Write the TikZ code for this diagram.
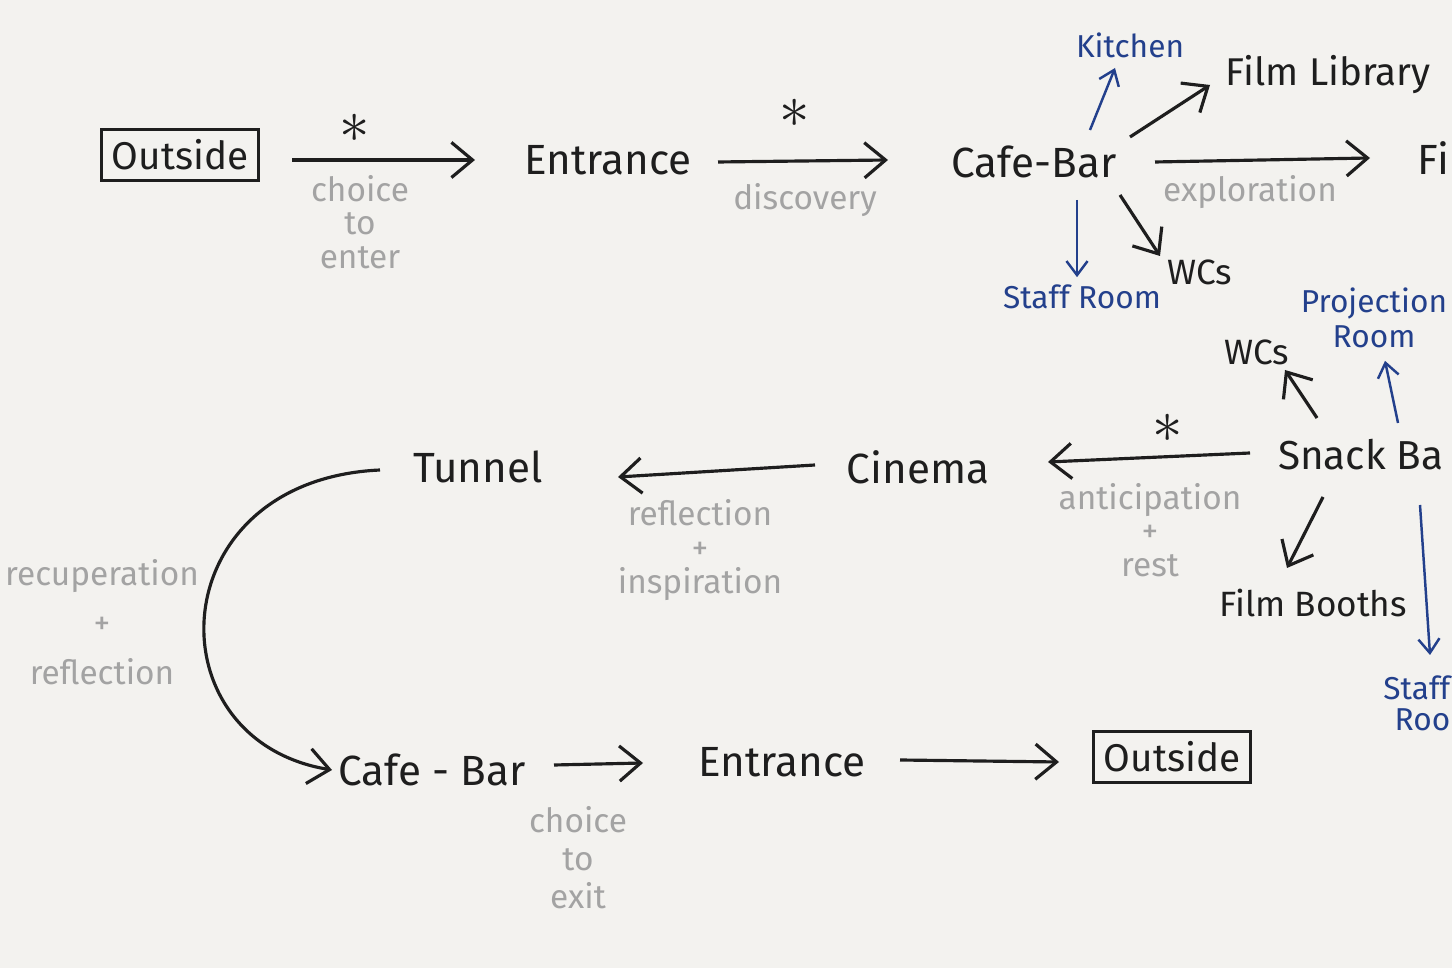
\documentclass[tikz,border=0pt]{standalone}
\usepackage{fontspec}
\setmainfont{Fira Sans}
\usetikzlibrary{arrows.meta}
\definecolor{ink}   {HTML}{1E1E1E}
\definecolor{pencil}{HTML}{A3A3A3}
\definecolor{biro}  {HTML}{23408C}
\definecolor{paper} {HTML}{F3F2EF}

\begin{document}
\begin{tikzpicture}[x=0.01cm, y=-0.01cm,
  place/.style={font=\fontsize{12}{14}\selectfont, text=ink, inner sep=2pt},
  door/.style={draw=ink, line width=0.8pt, font=\fontsize{11}{13}\selectfont, text=ink, inner sep=3pt},
  minor/.style={font=\fontsize{10}{12}\selectfont, text=ink, inner sep=2pt},
  room/.style={font=\fontsize{9}{10}\selectfont, text=biro, align=center, inner sep=2pt},
  mood/.style={font=\fontsize{9.5}{9.6}\selectfont, text=pencil, align=center, inner sep=1pt},
  star/.style={font=\LARGE, text=ink, inner sep=0pt},
  flow/.style={draw=ink, line width=0.9pt, -{Straight Barb[length=6pt,width=10pt]}},
  aside/.style={draw=biro, line width=0.7pt, -{Straight Barb[length=4pt,width=6pt]}}]
  \useasboundingbox[fill=paper] (0,0) rectangle (1452,968);

  % the way in
  \node[door]  (outA)  at (180,155) {Outside};
  \node[place] (entA)  at (608,160) {Entrance};
  \node[place] (cafeA) at (1034,162) {Cafe-Bar};
  \node[place, anchor=west] (fi) at (1410,158) {Fi};
  \node[room]  (kitchen) at (1130,45) {Kitchen};
  \node[minor, font=\fontsize{11}{13}\selectfont, anchor=west] (filmlib) at (1218,75) {Film Library};
  \node[room]  (staffA) at (1082,297) {Staff Room};
  \node[minor] (wcA) at (1200,272) {WCs};

  \node[star] (starA) at (355,128) {$\ast$};
  \node[star] (starB) at (795,113) {$\ast$};
  \node[mood] (enter) at (360,222) {choice\\to\\enter};
  \node[mood] (disc)  at (805,200) {discovery};
  \node[mood] (expl)  at (1250,192) {exploration};

  \draw[flow] ([shift={(112,5)}]outA.center) -- ([shift={(-133,0)}]entA.center);
  \draw[flow] ([shift={(110,2)}]entA.center) -- ([shift={(-146,-2)}]cafeA.center);
  \draw[flow] ([shift={(121,0)}]cafeA.center) -- ([shift={(-40,0)}]fi.west);
  \draw[flow] ([shift={(96,-25)}]cafeA.center) -- ([shift={(-8,10)}]filmlib.west);
  \draw[flow] ([shift={(86,33)}]cafeA.center) -- ([shift={(-40,-16)}]wcA.center);
  \draw[aside] ([shift={(56,-32)}]cafeA.center) -- ([shift={(-15,23)}]kitchen.center);
  \draw[aside] ([shift={(43,38)}]cafeA.center) -- ([shift={(-5,0)}]staffA.north);

  % around the snack bar
  \node[place, font=\fontsize{11.5}{14}\selectfont, anchor=east] (snack) at (1451,455) {Snack Ba};
  \node[room]  (proj)   at (1374,318) {Projection\\Room};
  \node[minor] (wcB)    at (1257,352) {WCs};
  \node[minor] (booths) at (1313,603) {Film Booths};
  \node[room, anchor=east, inner sep=0pt] (staffB) at (1451,688) {Staff};
  \node[room, anchor=east, inner sep=0pt] (staffC) at (1451,720) {Roo};

  \draw[flow]  ([shift={(-134,-37)}]snack.east) -- ([shift={(28,18)}]wcB.center);
  \draw[flow]  ([shift={(-128,42)}]snack.east) -- ([shift={(-26,-35)}]booths.center);
  \draw[aside] ([shift={(-53,-32)}]snack.east) -- ([shift={(11,5)}]proj.south);
  \draw[aside] ([shift={(-31,50)}]snack.east) -- ([shift={(-21,-33)}]staffB.east);

  % the way back
  \node[place] (cinema) at (918,467) {Cinema};
  \node[place] (tunnel) at (478,467) {Tunnel};
  \node[place] (cafeB)  at (432,770) {Cafe - Bar};
  \node[place] (entB)   at (782,762) {Entrance};
  \node[door]  (outB)   at (1172,757) {Outside};

  \node[star] (starC) at (1168,428) {$\ast$};
  \node[mood] (antic) at (1150,530) {anticipation\\+\\rest};
  \node[mood] (refl)  at (700,550) {reflection\\+\\inspiration};
  \node[mood, font=\fontsize{9.5}{14}\selectfont] (recup) at (102,622) {recuperation\\+\\reflection};
  \node[mood, font=\fontsize{9.5}{10.8}\selectfont] (exit) at (578,858) {choice\\to\\exit};

  \draw[flow] ([shift={(-201,-2)}]snack.east) -- ([shift={(130,-5)}]cinema.center);
  \draw[flow] ([shift={(-103,-2)}]cinema.center) -- ([shift={(140,10)}]tunnel.center);
  \draw[flow] ([shift={(-98,3)}]tunnel.center) .. controls (160,480) and (150,740) .. ([shift={(-100,0)}]cafeB.center);
  \draw[flow] ([shift={(122,-5)}]cafeB.center) -- ([shift={(-139,1)}]entB.center);
  \draw[flow] ([shift={(118,-2)}]entB.center) -- ([shift={(-113,5)}]outB.center);
\end{tikzpicture}
\end{document}
